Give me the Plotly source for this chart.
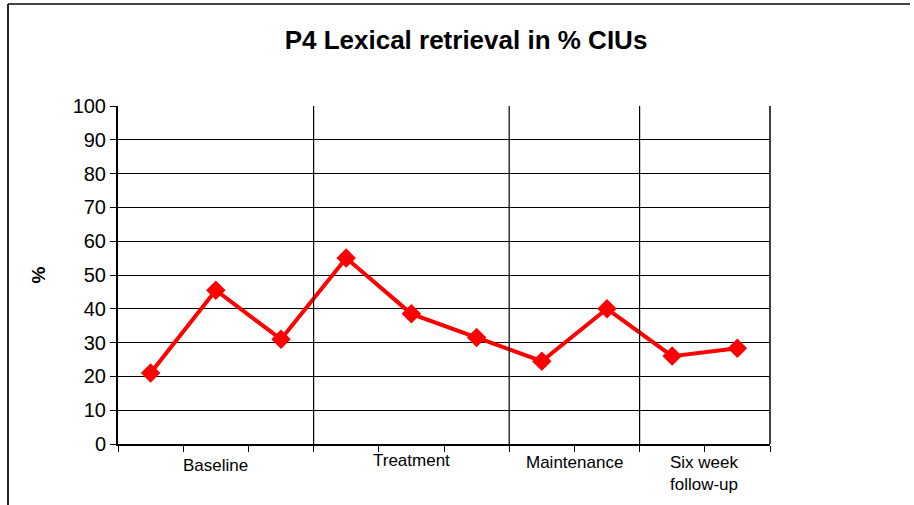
import plotly.graph_objects as go

# Data
sessions = list(range(10))
values = [21, 45.5, 31, 55, 38.5, 31.5, 24.5, 40, 26, 28.3]
phase_labels = ["Baseline", "Treatment", "Maintenance", "Six week<br>follow-up"]
phase_centers = [1, 4, 6.5, 8.5]
phase_label_offsets = [-10, -5, -7, -7]
phase_boundaries = [2.5, 5.5, 7.5]
y_ticks = list(range(0, 101, 10))
title_text = "P4 Lexical retrieval in % CIUs"
y_title = "%"

FONT = "Arial, Liberation Sans, sans-serif"

fig = go.Figure()
fig.add_trace(go.Scatter(
    x=sessions, y=values, mode="lines+markers",
    line=dict(color="#FF0000", width=4),
    marker=dict(symbol="diamond", size=15, color="#FF0000"),
    showlegend=False, cliponaxis=False,
))

L, R, T, B = 118, 770, 106, 444
W, H = 914, 505
pw, ph = R - L, B - T

def px(x):
    return (x - L) / pw

def py(y):
    return (B - y) / ph

shapes = []
for b in phase_boundaries:
    shapes.append(dict(type="line", xref="x", yref="y", x0=b, x1=b, y0=0, y1=101,
                       line=dict(color="black", width=1.2), layer="above"))
# outer chart border (top and left)
shapes.append(dict(type="line", xref="paper", yref="paper", x0=px(8), x1=px(910), y0=py(4), y1=py(4),
                   line=dict(color="#444444", width=2)))
shapes.append(dict(type="line", xref="paper", yref="paper", x0=px(8), x1=px(8), y0=py(4), y1=py(510),
                   line=dict(color="#222222", width=2)))

annotations = []
for lab, c, off in zip(phase_labels, phase_centers, phase_label_offsets):
    annotations.append(dict(x=c, y=0, xref="x", yref="y", text=lab, showarrow=False,
                            xanchor="center", yanchor="top", yshift=off, align="center",
                            font=dict(family=FONT, size=17, color="black")))

fig.update_layout(
    width=W, height=H,
    margin=dict(l=L, r=W - R, t=T, b=H - B, pad=0),
    paper_bgcolor="white", plot_bgcolor="white",
    title=dict(text="<b>" + title_text + "</b>", x=px(466), xref="paper", xanchor="center",
               y=1 - 40 / H, yref="container", yanchor="middle",
               font=dict(family=FONT, size=26, color="black")),
    xaxis=dict(range=[-0.5, 9.5], showgrid=False, zeroline=False,
               tickmode="array", tickvals=[i - 0.5 for i in range(11)], showticklabels=False,
               ticks="outside", ticklen=6, tickcolor="black", tickwidth=1,
               showline=True, linecolor="black", linewidth=2, mirror=False),
    yaxis=dict(range=[0, 100], tickmode="array", tickvals=y_ticks,
               showgrid=True, gridcolor="black", gridwidth=1, zeroline=False,
               ticks="outside", ticklen=6, tickcolor="black", tickwidth=1,
               showline=True, linecolor="black", linewidth=2, mirror=False,
               tickfont=dict(family=FONT, size=20, color="black"),
               title=dict(text="<b>" + y_title + "</b>", standoff=22,
                          font=dict(family=FONT, size=19, color="black"))),
    shapes=shapes,
    annotations=annotations,
)
# right border of plot area
fig.add_shape(type="line", xref="paper", yref="paper", x0=1, x1=1, y0=0, y1=1,
              line=dict(color="black", width=1.5))

fig.write_html("out.html", config={"displayModeBar": False},
               post_script="document.body.style.margin='0';document.body.style.overflow='hidden';")
